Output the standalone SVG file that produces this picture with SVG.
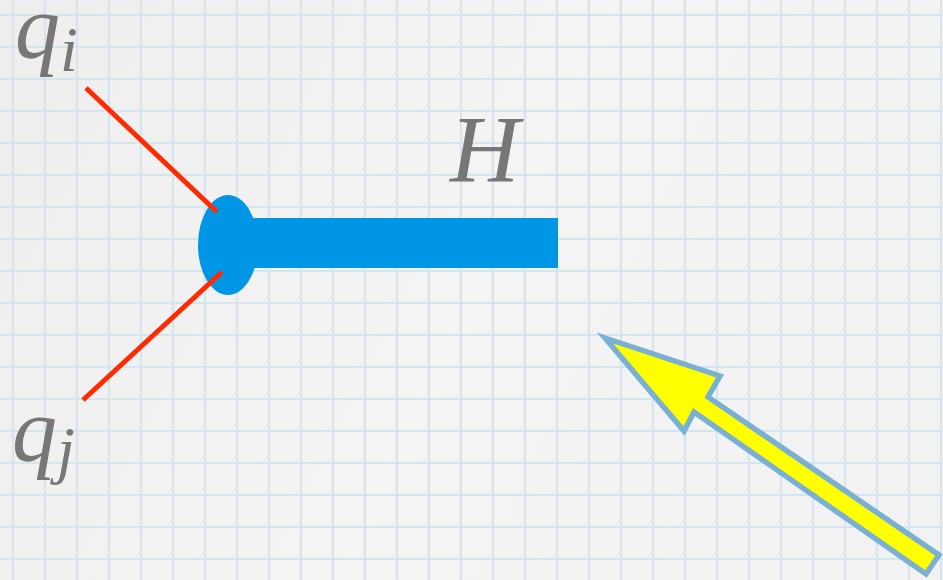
<svg xmlns="http://www.w3.org/2000/svg" width="943" height="580" viewBox="0 0 943 580">
<style>
.lbl{font-family:"Liberation Serif","DejaVu Serif",serif;font-style:italic;fill:#777777}
.quark{stroke:#ff2a00;stroke-width:5;fill:none}
.grid{stroke:#d3e5ed;stroke-width:2.2;fill:none}
</style>
<defs>
<linearGradient id="bg" x1="0" y1="0" x2="1" y2="0.3">
<stop offset="0" stop-color="#eeeeee"/>
<stop offset="0.6" stop-color="#f4f4f4"/>
<stop offset="1" stop-color="#f2f2f2"/>
</linearGradient>
</defs>
<rect width="943" height="580" fill="url(#bg)"/>
<path class="grid" d="M13 0V580M45 0V580M77 0V580M109 0V580M141 0V580M173 0V580M205 0V580M237 0V580M269 0V580M301 0V580M333 0V580M365 0V580M397 0V580M429 0V580M461 0V580M493 0V580M525 0V580M557 0V580M589 0V580M621 0V580M653 0V580M685 0V580M717 0V580M749 0V580M781 0V580M813 0V580M845 0V580M877 0V580M909 0V580M941 0V580M0 15H943M0 47H943M0 79H943M0 111H943M0 143H943M0 175H943M0 207H943M0 239H943M0 271H943M0 303H943M0 335H943M0 367H943M0 399H943M0 431H943M0 463H943M0 495H943M0 527H943M0 559H943"/>
<g id="higgs">
<rect x="228" y="218" width="330" height="50" fill="#0096e6"/>
<ellipse cx="228" cy="245" rx="30" ry="50" fill="#0096e6"/>
</g>
<g id="connectors">
<line class="quark" x1="86" y1="88" x2="217" y2="212"/>
<line class="quark" x1="83" y1="400" x2="222" y2="272"/>
</g>
<g id="label-qi"><text class="lbl" x="15" y="58" font-size="90">q<tspan font-size="64" dy="13">i</tspan></text></g>
<g id="label-qj"><text class="lbl" x="12" y="461" font-size="90">q<tspan font-size="64" dy="10">j</tspan></text></g>
<g id="label-H"><text class="lbl" x="450" y="182" font-size="96">H</text></g>
<g id="arrow">
<polygon points="605,338 720,376 708,397 939,555 926,574 694,412 684,431" fill="#ffff00" stroke="#7ab0d4" stroke-width="5.5" stroke-linejoin="miter"/>
</g>
</svg>
